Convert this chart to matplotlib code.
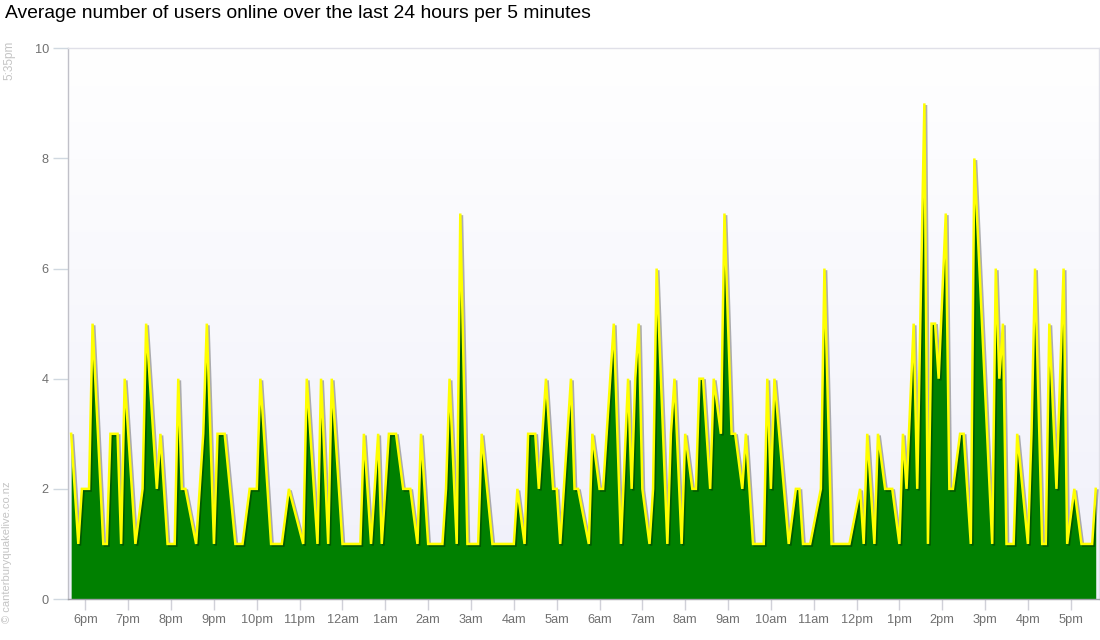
import numpy as np
import matplotlib
matplotlib.use("Agg")
import matplotlib.pyplot as plt
import matplotlib.patheffects as pe
from matplotlib.colors import LinearSegmentedColormap

title = "Average number of users online over the last 24 hours per 5 minutes"
hour_labels = ["6pm", "7pm", "8pm", "9pm", "10pm", "11pm", "12am", "1am", "2am", "3am",
               "4am", "5am", "6am", "7am", "8am", "9am", "10am", "11am", "12pm", "1pm",
               "2pm", "3pm", "4pm", "5pm"]
y_ticks = [0, 2, 4, 6, 8, 10]

# 5-minute slot index (slot 0 = 5:40pm) and average users online at that slot
slots = [0, 2, 3, 5, 6, 9, 10, 11, 13, 14, 15, 18, 20, 21, 24, 25, 27, 29, 30, 31,
         32, 35, 36, 37, 38, 40, 41, 43, 46, 48, 50, 52, 53, 56, 59, 61, 65, 66, 69, 70,
         72, 73, 76, 81, 82, 84, 86, 87, 88, 89, 91, 93, 95, 97, 98, 100, 104, 105, 106, 108,
         109, 111, 114, 115, 118, 124, 125, 127, 128, 130, 131, 133, 135, 136, 137, 138, 140, 141, 142, 145,
         146, 148, 149, 150, 152, 154, 156, 157, 158, 159, 160, 162, 163, 164, 167, 168, 169, 171, 172, 174,
         175, 176, 177, 179, 180, 182, 183, 185, 186, 188, 189, 191, 194, 195, 196, 197, 201, 203, 204, 205,
         207, 210, 211, 213, 218, 221, 222, 223, 225, 226, 228, 230, 232, 233, 234, 236, 237, 239, 240, 241,
         242, 243, 245, 246, 247, 249, 250, 252, 253, 258, 259, 260, 261, 262, 264, 265, 268, 269, 270, 272,
         273, 274, 276, 277, 278, 279, 281, 283, 286, 287]
users = [3, 1, 2, 2, 5, 1, 1, 3, 3, 1, 4, 1, 2, 5, 2, 3, 1, 1, 4, 2,
         2, 1, 2, 3, 5, 1, 3, 3, 1, 1, 2, 2, 4, 1, 1, 2, 1, 4, 1, 4,
         1, 4, 1, 1, 3, 1, 3, 1, 2, 3, 3, 2, 2, 1, 3, 1, 1, 2, 4, 1,
         7, 1, 1, 3, 1, 1, 2, 1, 3, 3, 2, 4, 2, 2, 1, 2, 4, 2, 2, 1,
         3, 2, 2, 3, 5, 1, 4, 2, 4, 5, 2, 1, 2, 6, 1, 3, 4, 1, 3, 2,
         2, 4, 4, 2, 4, 3, 7, 3, 3, 2, 3, 1, 1, 4, 2, 4, 1, 2, 2, 1,
         1, 2, 6, 1, 1, 2, 1, 3, 1, 3, 2, 2, 1, 3, 2, 5, 2, 9, 1, 5,
         5, 4, 7, 2, 2, 3, 3, 1, 8, 1, 6, 4, 5, 1, 1, 3, 1, 3, 6, 1,
         1, 5, 2, 4, 6, 1, 2, 1, 1, 2]

# minutes after 6pm
minutes = -20 + 5 * np.array(slots)
users = np.array(users, dtype=float)

plt.rcParams['font.family'] = ['Liberation Sans', 'DejaVu Sans']

fig = plt.figure(figsize=(11, 6.4), dpi=100)
ax = fig.add_axes([68.3 / 1100, 41 / 640, (1099.3 - 68.3) / 1100, (599 - 48.3) / 640])

# background gradient
cmap = LinearSegmentedColormap.from_list("bg", ["#f0f0fa", "#ffffff"])
grad = np.linspace(0, 1, 256).reshape(-1, 1)
ax.imshow(grad, extent=[0, 1, 0, 1], transform=ax.transAxes, cmap=cmap,
          aspect='auto', origin='lower', zorder=0)

ax.fill_between(minutes, users, 0, color='#008000', zorder=2, linewidth=0)
ax.plot(minutes, users, color='#ffff00', lw=1.8, zorder=3, solid_joinstyle='miter',
        path_effects=[pe.SimpleLineShadow(offset=(1.2, -1.2), shadow_color='#000000', alpha=0.3),
                      pe.Normal()])

ax.set_xlim(-24, 1420)
ax.set_ylim(0, 10)
ax.set_xticks(np.arange(0, 24 * 60, 60))
ax.set_xticklabels(hour_labels)
ax.set_yticks(y_ticks)
ax.set_yticklabels([str(v) for v in y_ticks])

ax.tick_params(axis='x', direction='out', length=8, width=1, color='#d0d0d8',
               labelsize=9.2, labelcolor='#707070', pad=3)
ax.tick_params(axis='y', direction='out', length=11, width=1, color='#d0d8e0',
               labelsize=9.2, labelcolor='#707070', pad=3)

ax.spines['left'].set_color('#c0c0c8')
ax.spines['bottom'].set_color('#a0a0a8')
ax.spines['top'].set_color('#e0e0e8')
ax.spines['right'].set_color('#e0e0e8')
for s in ax.spines.values():
    s.set_linewidth(1)

fig.text(5 / 1100, 1 - 14 / 640, title, fontsize=13.9, color='#000000',
         ha='left', va='center')
fig.text(9 / 1100, 1 - 60 / 640, "5:35pm", rotation=90, fontsize=8.5, color='#c4c4c4',
         ha='center', va='center')
fig.text(7 / 1100, 1 - 552 / 640, "© canterburyquakelive.co.nz", rotation=90, fontsize=8,
         color='#c4c4c4', ha='center', va='center')

fig.savefig("out.png", dpi=100)
